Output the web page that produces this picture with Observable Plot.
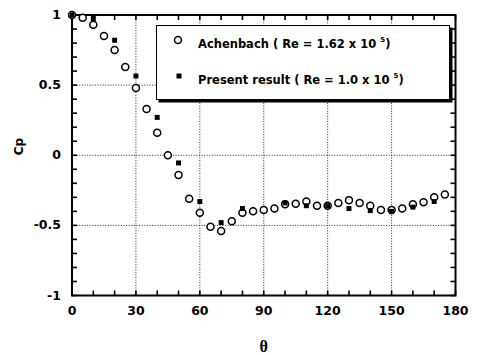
<!DOCTYPE html>
<html>
<head>
<meta charset="utf-8">
<script src="https://cdn.jsdelivr.net/npm/d3@7"></script>
<script src="https://cdn.jsdelivr.net/npm/@observablehq/plot@0.6"></script>
<style>
  body { margin: 0; background: #fff; }
  #wrap { position: relative; width: 477px; height: 355px; }
  #legend {
    position: absolute; left: 156px; top: 25px; width: 292px; height: 73px;
    border: 1.5px solid #000; box-shadow: 2.5px 2.5px 0 #000; background: #fff;
    font-family: "DejaVu Sans", sans-serif; font-weight: bold; font-size: 11.5px; color: #000;
  }
  #legend .row { position: absolute; left: 0; height: 20px; width: 100%; }
  #legend .lbl { position: absolute; left: 41px; white-space: nowrap; }
  #legend sup { font-size: 7px; vertical-align: 6px; line-height: 0; }
  #legend svg { position: absolute; }
</style>
</head>
<body>
<div id="wrap">
  <div id="chart"></div>
  <div id="legend"></div>
</div>
<script>
// Achenbach (Re = 1.62 x 10^5): open circles
const achTheta = [0, 5, 10, 15, 20, 25, 30, 35, 40, 45, 50, 55, 60, 65, 70, 75, 80, 85, 90, 95, 100, 105, 110, 115, 120, 125, 130, 135, 140, 145, 150, 155, 160, 165, 170, 175];
const achCp    = [1.0, 0.98, 0.93, 0.85, 0.75, 0.63, 0.48, 0.33, 0.16, 0.0, -0.14, -0.31, -0.41, -0.51, -0.54, -0.47, -0.41, -0.40, -0.39, -0.38, -0.35, -0.345, -0.33, -0.36, -0.36, -0.34, -0.32, -0.34, -0.36, -0.39, -0.39, -0.38, -0.35, -0.335, -0.30, -0.28];
// Present result (Re = 1.0 x 10^5): filled squares
const preTheta = [0, 10, 20, 30, 40, 50, 60, 70, 80, 100, 110, 120, 130, 140, 150, 160, 170];
const preCp    = [1.0, 0.975, 0.82, 0.565, 0.27, -0.055, -0.33, -0.48, -0.38, -0.34, -0.36, -0.36, -0.38, -0.395, -0.40, -0.37, -0.33];

const xTicks = [0, 30, 60, 90, 120, 150, 180];
const xGrid = [30, 60, 90, 120, 150];
const xMinor = [0, 10, 20, 30, 40, 50, 60, 70, 80, 90, 100, 110, 120, 130, 140, 150, 160, 170, 180];
const yTicks = [1, 0.5, 0, -0.5, -1];
const yGrid = [0.5, 0, -0.5];
const yMinor = [-1, -0.9, -0.8, -0.7, -0.6, -0.5, -0.4, -0.3, -0.2, -0.1, 0, 0.1, 0.2, 0.3, 0.4, 0.5, 0.6, 0.7, 0.8, 0.9, 1];
const xLabel = "θ";
const yLabel = "Cp";
const legendItems = [
  {name: "Achenbach", re: "1.62 x 10", exp: "5"},
  {name: "Present result", re: "1.0 x 10", exp: "5"}
];

const ach = achTheta.map((t, i) => ({theta: t, cp: achCp[i]}));
const pre = preTheta.map((t, i) => ({theta: t, cp: preCp[i]}));

const W = 477, H = 355, mL = 71.5, mR = 22, mT = 14.5, mB = 60;
const xDom = [0, 180], yDom = [-1, 1];
const fw = W - mL - mR, fh = H - mT - mB;
const tk = 5; // tick length in px
const tkY = (yDom[1] - yDom[0]) * tk / fh; // tick length in y units
const tkX = (xDom[1] - xDom[0]) * tk / fw; // tick length in x units
const minorX = xMinor.map(v => ({v}));
const minorY = yMinor.map(v => ({v}));

const chart = Plot.plot({
  width: W,
  height: H,
  marginLeft: mL,
  marginRight: mR,
  marginTop: mT,
  marginBottom: mB,
  style: {fontFamily: "DejaVu Sans", background: "white", color: "black"},
  x: {domain: xDom, axis: null},
  y: {domain: yDom, axis: null},
  marks: [
    Plot.gridX(xGrid, {stroke: "black", strokeOpacity: 0.85, strokeDasharray: "1,1.6"}),
    Plot.gridY(yGrid, {stroke: "black", strokeOpacity: 0.85, strokeDasharray: "1,1.6"}),
    Plot.frame({stroke: "black", strokeWidth: 2}),
    // inward minor ticks on all four sides
    Plot.link(minorX, {x1: "v", x2: "v", y1: () => yDom[0], y2: () => yDom[0] + tkY, stroke: "black", strokeWidth: 1.6}),
    Plot.link(minorX, {x1: "v", x2: "v", y1: () => yDom[1], y2: () => yDom[1] - tkY, stroke: "black", strokeWidth: 1.6}),
    Plot.link(minorY, {y1: "v", y2: "v", x1: () => xDom[0], x2: () => xDom[0] + tkX, stroke: "black", strokeWidth: 1.6}),
    Plot.link(minorY, {y1: "v", y2: "v", x1: () => xDom[1], x2: () => xDom[1] - tkX, stroke: "black", strokeWidth: 1.6}),
    Plot.axisX({anchor: "bottom", ticks: xTicks, tickSize: 0, tickPadding: 11, tickFormat: d => String(d),
      fontSize: 12.5, fontWeight: "bold", label: null}),
    Plot.axisY({anchor: "left", ticks: yTicks, tickSize: 0, tickPadding: 11, tickFormat: d => String(d),
      fontSize: 12.5, fontWeight: "bold", label: null}),
    Plot.dot(ach, {x: "theta", y: "cp", r: 3.5, stroke: "black", strokeWidth: 1.5, fill: "white"}),
    Plot.dot(pre, {x: "theta", y: "cp", symbol: "square", r: 2.8, fill: "black", stroke: "none"}),
    Plot.text([xLabel], {frameAnchor: "bottom", dy: 51, text: d => d, fontSize: 16, fontWeight: "bold",
      fontFamily: "Liberation Serif", lineAnchor: "middle"}),
    Plot.text([yLabel], {frameAnchor: "left", dx: -53, text: d => d, rotate: -90, fontSize: 12,
      fontWeight: "bold", lineAnchor: "middle"})
  ]
});
document.getElementById("chart").appendChild(chart);

// Legend
const legend = document.getElementById("legend");
legendItems.forEach((item, i) => {
  const row = document.createElement("div");
  row.className = "row";
  row.style.top = (i === 0 ? 8 : 44) + "px";
  const sym = i === 0
    ? '<svg width="12" height="12" style="left:15px;top:0px"><circle cx="6" cy="6" r="3.5" fill="white" stroke="black" stroke-width="1.5"/></svg>'
    : '<svg width="12" height="12" style="left:16px;top:0px"><rect x="3.5" y="3.5" width="5" height="5" fill="black"/></svg>';
  row.innerHTML = sym + '<span class="lbl" style="top:3px">' + item.name + ' ( Re = ' + item.re +
    ' <sup>' + item.exp + '</sup>)</span>';
  legend.appendChild(row);
});
</script>
</body>
</html>
